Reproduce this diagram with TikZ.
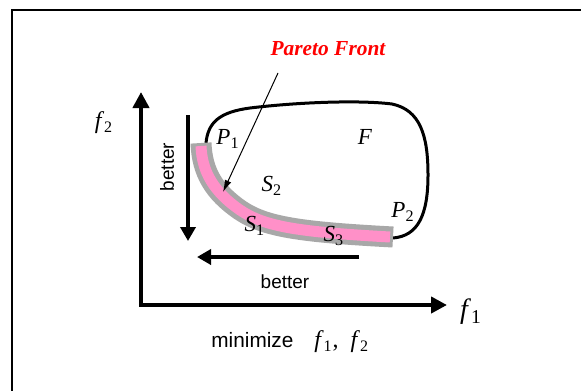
\documentclass[tikz,border=0pt]{standalone}
\usepackage{fontspec}
\setmainfont{Liberation Serif}
\setsansfont{Liberation Sans}
\usetikzlibrary{
  arrows.meta,
  positioning
}
\definecolor{pfRed}{HTML}{FF0000}
\definecolor{pfPink}{HTML}{FF90C8}
\definecolor{pfGray}{HTML}{A8A8A8}
\definecolor{pfInk}{HTML}{000000}
\newcommand{\sublab}[2]{\textit{#1}\textsubscript{#2}}
\tikzset{
  frame/.style={draw=pfInk, line width=1pt},
  axis/.style={-{Triangle[length=8pt,width=8pt]}, line width=2.3pt, draw=pfInk, line cap=rect},
  hint/.style={-{Triangle[length=7pt,width=7.5pt]}, line width=2.2pt, draw=pfInk},
  region/.style={line width=1.5pt, draw=pfInk},
  frontedge/.style={line width=10.5pt, draw=pfGray, line cap=butt},
  frontfill/.style={line width=5.5pt, draw=pfPink, line cap=butt},
  pointer/.style={-{Latex[length=6pt,width=3.5pt]}, line width=0.5pt, draw=pfInk},
  varlabel/.style={font=\fontsize{11.5}{13}\selectfont, inner sep=0pt},
  axislabel/.style={font=\fontsize{12}{14}\selectfont, inner sep=0pt},
  word/.style={font=\sffamily\fontsize{9.5}{11}\selectfont, inner sep=0pt},
  callout/.style={font=\bfseries\itshape\fontsize{10.7}{12}\selectfont, text=pfRed, inner sep=0pt}
}

\begin{document}
\begin{tikzpicture}[x=0.5pt,y=-0.5pt]

% --------------------------------------------------------------------------
% Page and frame
% --------------------------------------------------------------------------
\useasboundingbox (0,0) rectangle (581,390);
\clip (0,0) rectangle (581,390);
\fill[white] (0,0) rectangle (581,390);
\draw[frame] (12,10) rectangle (620,420);

% --------------------------------------------------------------------------
% Axes
% --------------------------------------------------------------------------
\coordinate (origin) at (141,305);
\coordinate (ytip) at (141,92);
\coordinate (xtip) at (447,305);

\draw[axis] (origin) -- (ytip);
\draw[axis] (origin) -- (xtip);

\node[axislabel] (f2lab) at (104,123) {\sublab{f}{2}};
\node[axislabel, font=\fontsize{14}{16}\selectfont] (f1lab) at (471,312) {\sublab{f}{1}};
\node[word, font=\sffamily\fontsize{10.4}{12}\selectfont, anchor=west] (goal) at (211,342)
  {minimize\quad {\rmfamily\fontsize{12}{14}\selectfont\sublab{f}{1},\ \ \sublab{f}{2}}};

% --------------------------------------------------------------------------
% Direction hints
% --------------------------------------------------------------------------
\coordinate (vtop) at (188,115);
\coordinate (vtip) at (188,241);
\coordinate (hstart) at (359,257);
\coordinate (htip) at (197,257);

\draw[hint] (vtop) -- (vtip);
\draw[hint] (hstart) -- (htip);

\node[word, rotate=90] (vbetter) at (167,167) {better};
\node[word] (hbetter) at (285,282) {better};

% --------------------------------------------------------------------------
% Feasible region and Pareto front
% --------------------------------------------------------------------------
\coordinate (p1end) at (206,143);
\coordinate (p2end) at (393,238);

\draw[region] (p1end)
  .. controls (208,122) and (220,112) .. (250,108)
  .. controls (300,102) and (360,100) .. (392,104)
  .. controls (420,110) and (428,135) .. (428,175)
  .. controls (428,215) and (418,236) .. (p2end);

\draw[frontedge] (201,143)
  .. controls (202,172) and (214,192) .. (240,210)
  .. controls (265,227) and (300,232) .. (393,237);
\draw[frontfill] (201,146)
  .. controls (202,172) and (214,192) .. (240,210)
  .. controls (265,227) and (300,232) .. (390,237);

\node[varlabel] (p1) at (228,139) {\sublab{P}{1}};
\node[varlabel] (p2) at (403,212) {\sublab{P}{2}};
\node[varlabel] (flab) at (365,137) {\textit{F}};
\node[varlabel] (s2) at (272,186) {\sublab{S}{2}};
\node[varlabel] (s1) at (255,226) {\sublab{S}{1}};
\node[varlabel] (s3) at (334,236) {\sublab{S}{3}};

% --------------------------------------------------------------------------
% Callout
% --------------------------------------------------------------------------
\node[callout] (pf) at (328,49) {Pareto Front};
\coordinate (pfstart) at (278,73);
\coordinate (pfend) at (223,192);

\draw[pointer] (pfstart) -- (pfend);

\end{tikzpicture}
\end{document}
